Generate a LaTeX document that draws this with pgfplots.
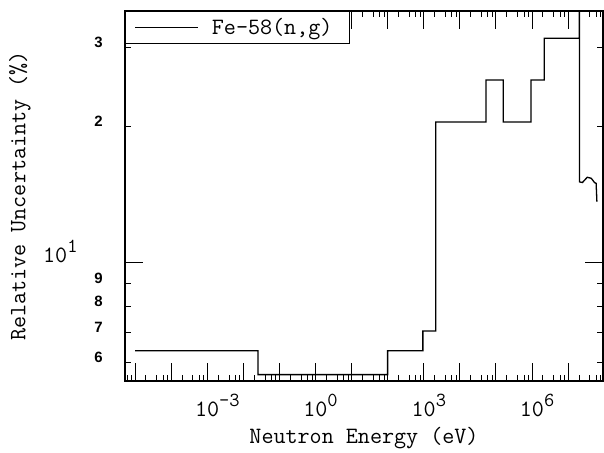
\documentclass[border=0pt]{standalone}
\usepackage{fontspec}
\newfontfamily\minorfont{Liberation Sans}
\usepackage{pgfplots}
\pgfplotsset{compat=1.18}
\newcommand\sups[1]{\rlap{\raisebox{10bp}{\ttfamily\fontsize{20}{20}\selectfont #1}}}
\newcommand\bigf{\ttfamily\fontsize{23.5}{26}\selectfont}
\begin{document}
\begin{tikzpicture}
\path[use as bounding box] (-125bp,-72bp) rectangle (479bp,381bp);
\begin{axis}[
  at={(0,0)}, anchor=south west,
  scale only axis, width=478bp, height=370bp,
  xmode=log, ymode=log,
  xmin=5.28e-6, xmax=9.3e7, ymin=5.47, ymax=36.1,
  axis line style={line width=1.6bp},
  tick style={line width=0.8bp, black},
  major tick length=18bp, minor tick length=6bp,
  xtick={1e-5,1e-4,1e-3,1e-2,1e-1,1,1e1,1e2,1e3,1e4,1e5,1e6,1e7},
  xticklabels={,,10\sups{-3},,,10\sups{0},,,10\sups{3},,,10\sups{6},},
  minor xtick={6e-6,8e-6,2e-5,4e-5,6e-5,8e-5,2e-4,4e-4,6e-4,8e-4,2e-3,4e-3,6e-3,8e-3,
    2e-2,4e-2,6e-2,8e-2,2e-1,4e-1,6e-1,8e-1,2,4,6,8,20,40,60,80,200,400,600,800,
    2e3,4e3,6e3,8e3,2e4,4e4,6e4,8e4,2e5,4e5,6e5,8e5,2e6,4e6,6e6,8e6,2e7,4e7,6e7,8e7},
  xticklabel style={font=\bigf, anchor=base, inner sep=0pt, yshift=-35.7bp},
  ytick={10},
  yticklabels={10\sups{1}},
  yticklabel style={font=\bigf, anchor=base east, inner sep=0pt, xshift=-57.5bp},
  minor ytick={},
  extra y ticks={6,7,8,9,20,30},
  extra y tick labels={6,7,8,9,2,3},
  extra y tick style={major tick length=6bp,
    yticklabel style={font=\minorfont\bfseries\fontsize{15}{15}\selectfont, xshift=35.5bp}},
  xlabel={Neutron Energy (eV)},
  ylabel={Relative Uncertainty (\%)},
  label style={font=\bigf},
  xlabel style={at={(axis description cs:0.5,-0.1676)}, anchor=base},
  ylabel style={at={(axis description cs:-0.2197,0.5)}, anchor=center},
  legend style={at={(0,1)}, anchor=north west, draw=black, line width=1.2bp,
    font=\bigf, inner xsep=9bp, inner ysep=6bp,
    nodes={inner sep=1bp},
    /tikz/column 1/.style={column sep=12bp}},
  legend image code/.code={\draw[#1] (0bp,0bp) -- (63bp,0bp);},
]
\addplot[black, line width=1.3bp] coordinates {
(1e-5,6.38) (0.0257,6.38) (0.0257,5.65) (100,5.65) (100,6.38)
(950,6.38) (950,7.06) (2150,7.06) (2150,20.5) (5.3e4,20.5) (5.3e4,25.4)
(1.6e5,25.4) (1.6e5,20.5) (9.4e5,20.5) (9.4e5,25.4) (2.2e6,25.4) (2.2e6,31.4)
(2.05e7,31.4) (2.05e7,60) (2.08e7,60) (2.08e7,15.1) (2.5e7,15.05) (3.4e7,15.46)
(4.4e7,15.38) (5.4e7,15.05) (6.0e7,14.99) (6.3e7,13.66)
};
\addlegendentry{Fe-58(n,g)\hspace*{7bp}}
\end{axis}
\end{tikzpicture}
\end{document}
